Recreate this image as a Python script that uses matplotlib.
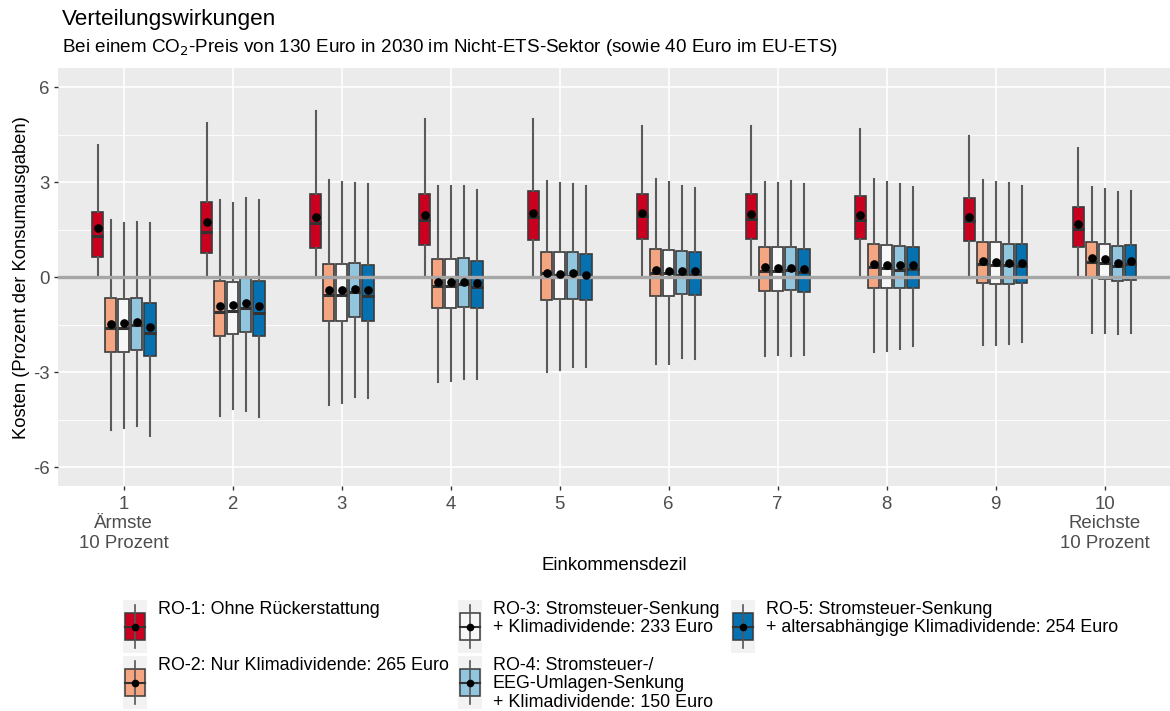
import numpy as np
import matplotlib
matplotlib.use("Agg")
import matplotlib.pyplot as plt
from matplotlib.patches import Rectangle

plt.rcParams["font.family"] = ["Liberation Sans", "DejaVu Sans"]

# Werte (Prozent der Konsumausgaben)
deciles = list(range(1, 11))
xlabels = ["1\nÄrmste\n10 Prozent", "2", "3", "4", "5", "6", "7", "8", "9",
           "10\nReichste\n10 Prozent"]

scenarios = ["RO-1: Ohne Rückerstattung",
             "RO-2: Nur Klimadividende: 265 Euro",
             "RO-3: Stromsteuer-Senkung\n+ Klimadividende: 233 Euro",
             "RO-4: Stromsteuer-/\nEEG-Umlagen-Senkung\n+ Klimadividende: 150 Euro",
             "RO-5: Stromsteuer-Senkung\n+ altersabhängige Klimadividende: 254 Euro"]
colors = ["#CA0020", "#F4A582", "#F7F7F7", "#92C5DE", "#0571B0"]

ro1_whishi = [4.17, 4.86, 5.26, 4.99, 4.99, 4.77, 4.77, 4.67, 4.46, 4.07]
ro1_q3 = [2.06, 2.38, 2.64, 2.64, 2.73, 2.62, 2.62, 2.57, 2.49, 2.22]
ro1_med = [1.30, 1.43, 1.72, 1.80, 1.91, 1.93, 1.85, 1.82, 1.78, 1.51]
ro1_mean = [1.56, 1.73, 1.91, 1.95, 2.04, 2.04, 1.99, 1.96, 1.91, 1.67]
ro1_q1 = [0.64, 0.75, 0.91, 1.03, 1.17, 1.20, 1.19, 1.19, 1.15, 0.96]
ro1_whislo = [0.06, 0.02, 0.03, 0.02, 0.02, 0.02, 0.02, 0.02, 0.02, 0.02]

ro2_whishi = [1.82, 2.45, 3.06, 2.88, 3.04, 3.09, 3.01, 3.09, 3.06, 2.85]
ro2_q3 = [-0.67, -0.12, 0.41, 0.56, 0.78, 0.88, 0.94, 1.04, 1.12, 1.12]
ro2_med = [-1.62, -1.10, -0.55, -0.28, 0.12, 0.12, 0.20, 0.31, 0.40, 0.48]
ro2_mean = [-1.49, -0.91, -0.41, -0.15, 0.12, 0.22, 0.31, 0.41, 0.51, 0.59]
ro2_q1 = [-2.36, -1.86, -1.38, -0.99, -0.73, -0.59, -0.43, -0.33, -0.20, -0.04]
ro2_whislo = [-4.83, -4.39, -4.04, -3.31, -2.99, -2.75, -2.50, -2.36, -2.15, -1.78]

ro3_whishi = [1.72, 2.35, 3.01, 2.88, 2.96, 3.01, 2.99, 3.01, 3.01, 2.77]
ro3_q3 = [-0.70, -0.15, 0.41, 0.56, 0.78, 0.85, 0.94, 1.01, 1.10, 1.06]
ro3_med = [-1.60, -1.06, -0.55, -0.28, 0.06, 0.12, 0.20, 0.28, 0.39, 0.46]
ro3_mean = [-1.46, -0.88, -0.41, -0.15, 0.11, 0.20, 0.30, 0.39, 0.47, 0.56]
ro3_q1 = [-2.38, -1.81, -1.38, -0.97, -0.70, -0.59, -0.43, -0.34, -0.22, -0.06]
ro3_whislo = [-4.78, -4.18, -3.97, -3.28, -2.92, -2.73, -2.46, -2.34, -2.13, -1.75]

ro4_whishi = [1.75, 2.49, 2.96, 2.88, 2.93, 2.88, 3.04, 2.94, 2.96, 2.70]
ro4_q3 = [-0.65, -0.04, 0.45, 0.60, 0.78, 0.83, 0.94, 0.99, 1.06, 0.99]
ro4_med = [-1.52, -0.99, -0.46, -0.22, 0.03, 0.06, 0.22, 0.24, 0.37, 0.35]
ro4_mean = [-1.41, -0.81, -0.36, -0.15, 0.12, 0.19, 0.30, 0.37, 0.46, 0.46]
ro4_q1 = [-2.29, -1.73, -1.25, -0.94, -0.69, -0.52, -0.41, -0.33, -0.22, -0.12]
ro4_whislo = [-4.71, -4.22, -3.78, -3.22, -2.85, -2.57, -2.50, -2.27, -2.11, -1.81]

ro5_whishi = [1.70, 2.45, 2.95, 2.75, 2.88, 2.83, 2.93, 2.85, 2.89, 2.72]
ro5_q3 = [-0.81, -0.12, 0.38, 0.52, 0.73, 0.80, 0.88, 0.96, 1.04, 1.03]
ro5_med = [-1.75, -1.12, -0.58, -0.31, 0.01, 0.08, 0.17, 0.27, 0.36, 0.40]
ro5_mean = [-1.57, -0.92, -0.41, -0.17, 0.08, 0.19, 0.27, 0.39, 0.46, 0.52]
ro5_q1 = [-2.50, -1.86, -1.38, -0.99, -0.73, -0.57, -0.46, -0.33, -0.20, -0.09]
ro5_whislo = [-5.01, -4.43, -3.82, -3.23, -2.83, -2.60, -2.46, -2.18, -2.04, -1.78]

series = [
    (ro1_whislo, ro1_q1, ro1_med, ro1_q3, ro1_whishi, ro1_mean),
    (ro2_whislo, ro2_q1, ro2_med, ro2_q3, ro2_whishi, ro2_mean),
    (ro3_whislo, ro3_q1, ro3_med, ro3_q3, ro3_whishi, ro3_mean),
    (ro4_whislo, ro4_q1, ro4_med, ro4_q3, ro4_whishi, ro4_mean),
    (ro5_whislo, ro5_q1, ro5_med, ro5_q3, ro5_whishi, ro5_mean),
]

W, H = 1170, 711
fig = plt.figure(figsize=(W / 100, H / 100), dpi=100)
ax = fig.add_axes([58.3 / W, 1 - 486 / H, (1170 - 58.3) / W, (486 - 68.3) / H])

ax.set_facecolor("#EBEBEB")
for s in ax.spines.values():
    s.set_visible(False)

step = 0.12
box_w = 0.105
edge = "#3a3a3a"
for i, (lo, q1, med, q3, hi, mean) in enumerate(series):
    stats = [dict(whislo=lo[k], q1=q1[k], med=med[k], q3=q3[k], whishi=hi[k],
                  mean=mean[k], fliers=[]) for k in range(len(deciles))]
    pos = np.array(deciles) + (i - 2) * step
    bp = ax.bxp(stats, positions=pos, widths=box_w, patch_artist=True,
                showmeans=True, showcaps=False, manage_ticks=False,
                boxprops=dict(facecolor=colors[i], edgecolor=edge, linewidth=1.2),
                whiskerprops=dict(color="#5a5a5a", linewidth=1.5),
                medianprops=dict(color="#333333", linewidth=2.2),
                meanprops=dict(marker="o", markerfacecolor="black",
                               markeredgecolor="black", markersize=5.2))
    for m in bp["means"]:
        m.set_zorder(5)

ax.axhline(0, color="#A6A6A6", linewidth=2.4, zorder=4)

ax.set_xlim(0.4, 10.6)
ax.set_ylim(-6.6, 6.6)
ax.set_yticks([-6, -3, 0, 3, 6])
ax.set_yticklabels(["-6", "-3", "0", "3", "6"])
ax.set_yticks([-4.5, -1.5, 1.5, 4.5], minor=True)
ax.set_xticks(deciles)
ax.set_xticklabels(xlabels, linespacing=1.2)
ax.grid(which="major", color="white", linewidth=1.2, zorder=0)
ax.grid(which="minor", axis="y", color="white", linewidth=0.6, zorder=0)
ax.set_axisbelow(True)
ax.tick_params(axis="both", which="major", length=3, width=1, color="#333333",
               labelsize=13.4, labelcolor="#4D4D4D", pad=3)
ax.tick_params(axis="x", which="major", pad=4)
ax.tick_params(axis="y", which="minor", length=0)

ax.set_xlabel("Einkommensdezil", fontsize=13.4, labelpad=4)
ax.set_ylabel("Kosten (Prozent der Konsumausgaben)", fontsize=13.2, labelpad=2)

fig.text(62 / W, 1 - 19 / H, "Verteilungswirkungen", fontsize=16.2, va="center")
fig.text(62 / W, 1 - 48 / H,
         "Bei einem CO$_2$-Preis von 130 Euro in 2030 im Nicht-ETS-Sektor (sowie 40 Euro im EU-ETS)",
         fontsize=13.6, va="center")

# Legende
lax = fig.add_axes([0, 0, 1, 1])
lax.set_xlim(0, W)
lax.set_ylim(H, 0)
lax.axis("off")

key_x = [123, 458, 731]
key_y = [600, 656]
slots = [(0, 0), (0, 1), (1, 0), (1, 1), (2, 0)]
for i, (c, r) in enumerate(slots):
    x0, y0 = key_x[c], key_y[r]
    kw, kh = 24, 53
    cx = x0 + kw / 2
    cy = y0 + kh / 2
    lax.add_patch(Rectangle((x0, y0), kw, kh, facecolor="#F2F2F2", edgecolor="none"))
    lax.plot([cx, cx], [y0 + 5, y0 + kh - 5], color="#555555", linewidth=1.2)
    lax.add_patch(Rectangle((x0 + 2, y0 + 13), kw - 4, kh - 26, facecolor=colors[i],
                            edgecolor=edge, linewidth=1.1))
    lax.plot([x0 + 2, x0 + kw - 2], [cy, cy], color="#333333", linewidth=1.5)
    lax.plot([cx], [cy], marker="o", color="black", markersize=4.5)
    lax.text(x0 + kw + 11, y0 + 1, scenarios[i], fontsize=12.9, va="top", ha="left",
             linespacing=1.1)

fig.savefig("out.png", dpi=100)
